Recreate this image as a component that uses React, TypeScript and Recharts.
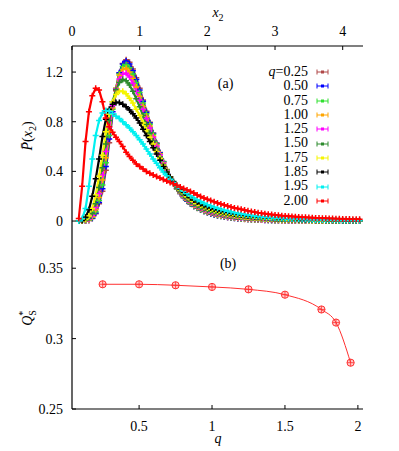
import React from 'react'
import { LineChart, Line, XAxis, YAxis, Legend, ReferenceDot } from 'recharts'

const FONT = 'Liberation Serif, DejaVu Serif, Times New Roman, serif'

// x2 grid of the distributions in panel (a)
const X2 = [
  0.1, 0.15, 0.2, 0.25, 0.3, 0.35, 0.4, 0.45, 0.5, 0.55,
  0.6, 0.65, 0.7, 0.75, 0.8, 0.85, 0.9, 0.95, 1, 1.05,
  1.1, 1.15, 1.2, 1.25, 1.3, 1.35, 1.4, 1.45, 1.5, 1.55,
  1.6, 1.65, 1.7, 1.75, 1.8, 1.85, 1.9, 1.95, 2, 2.05,
  2.1, 2.15, 2.2, 2.25, 2.3, 2.35, 2.4, 2.45, 2.5, 2.55,
  2.6, 2.65, 2.7, 2.75, 2.8, 2.85, 2.9, 2.95, 3, 3.05,
  3.1, 3.15, 3.2, 3.25, 3.3, 3.35, 3.4, 3.45, 3.5, 3.55,
  3.6, 3.65, 3.7, 3.75, 3.8, 3.85, 3.9, 3.95, 4, 4.05,
  4.1, 4.15, 4.2, 4.25,
]

const P025 = [
  0, 0, 0.001, 0.005, 0.02, 0.058, 0.14, 0.24, 0.41, 0.63,
  0.86, 1.05, 1.19, 1.27, 1.3, 1.28, 1.225, 1.155, 1.07, 0.975,
  0.885, 0.795, 0.71, 0.628, 0.552, 0.48, 0.415, 0.357, 0.305, 0.26,
  0.221, 0.188, 0.16, 0.137, 0.118, 0.102, 0.088, 0.076, 0.066, 0.057,
  0.05, 0.043, 0.038, 0.033, 0.029, 0.025, 0.022, 0.019, 0.017, 0.015,
  0.013, 0.011, 0.01, 0.009, 0.008, 0.007, 0.006, 0.005, 0.005, 0.004,
  0.004, 0.003, 0.003, 0.002, 0.002, 0.002, 0.002, 0.001, 0.001, 0.001,
  0.001, 0.001, 0.001, 0.001, 0.001, 0.001, 0.001, 0.001, 0.001, 0.001,
  0.001, 0.001, 0.001, 0.001,
]
const P050 = [
  0, 0, 0.001, 0.006, 0.022, 0.064, 0.15, 0.26, 0.44, 0.66,
  0.88, 1.065, 1.195, 1.265, 1.29, 1.265, 1.21, 1.14, 1.055, 0.965,
  0.875, 0.79, 0.705, 0.625, 0.55, 0.478, 0.414, 0.356, 0.305, 0.26,
  0.222, 0.19, 0.162, 0.139, 0.12, 0.104, 0.09, 0.078, 0.068, 0.059,
  0.051, 0.045, 0.039, 0.034, 0.03, 0.026, 0.023, 0.02, 0.018, 0.016,
  0.014, 0.012, 0.011, 0.009, 0.008, 0.007, 0.006, 0.006, 0.005, 0.004,
  0.004, 0.003, 0.003, 0.003, 0.002, 0.002, 0.002, 0.002, 0.001, 0.001,
  0.001, 0.001, 0.001, 0.001, 0.001, 0.001, 0.001, 0.001, 0.001, 0.001,
  0.001, 0.001, 0.001, 0.001,
]
const P075 = [
  0, 0, 0.002, 0.008, 0.028, 0.075, 0.165, 0.29, 0.47, 0.69,
  0.9, 1.07, 1.185, 1.245, 1.26, 1.235, 1.185, 1.115, 1.035, 0.95,
  0.865, 0.78, 0.7, 0.62, 0.545, 0.475, 0.412, 0.355, 0.305, 0.261,
  0.224, 0.192, 0.165, 0.142, 0.123, 0.107, 0.093, 0.081, 0.071, 0.062,
  0.054, 0.047, 0.041, 0.036, 0.032, 0.028, 0.025, 0.022, 0.019, 0.017,
  0.015, 0.013, 0.012, 0.01, 0.009, 0.008, 0.007, 0.006, 0.006, 0.005,
  0.004, 0.004, 0.003, 0.003, 0.003, 0.002, 0.002, 0.002, 0.002, 0.001,
  0.001, 0.001, 0.001, 0.001, 0.001, 0.001, 0.001, 0.001, 0.001, 0.001,
  0.001, 0.001, 0.001, 0.001,
]
const P100 = [
  0, 0, 0.003, 0.011, 0.035, 0.09, 0.19, 0.33, 0.51, 0.72,
  0.91, 1.07, 1.175, 1.22, 1.23, 1.2, 1.15, 1.08, 1.005, 0.925,
  0.845, 0.765, 0.685, 0.61, 0.54, 0.47, 0.41, 0.355, 0.305, 0.263,
  0.227, 0.196, 0.17, 0.147, 0.128, 0.112, 0.098, 0.086, 0.075, 0.066,
  0.058, 0.051, 0.045, 0.04, 0.035, 0.031, 0.028, 0.025, 0.022, 0.019,
  0.017, 0.015, 0.013, 0.012, 0.011, 0.01, 0.009, 0.008, 0.007, 0.006,
  0.005, 0.005, 0.004, 0.004, 0.003, 0.003, 0.003, 0.002, 0.002, 0.002,
  0.002, 0.001, 0.001, 0.001, 0.001, 0.001, 0.001, 0.001, 0.001, 0.001,
  0.001, 0.001, 0.001, 0.001,
]
const P125 = [
  0, 0, 0.004, 0.015, 0.045, 0.11, 0.22, 0.37, 0.56, 0.76,
  0.93, 1.065, 1.145, 1.185, 1.19, 1.16, 1.11, 1.045, 0.975, 0.9,
  0.825, 0.75, 0.675, 0.603, 0.533, 0.467, 0.406, 0.352, 0.305, 0.265,
  0.23, 0.2, 0.174, 0.152, 0.133, 0.117, 0.103, 0.091, 0.08, 0.071,
  0.063, 0.056, 0.05, 0.044, 0.039, 0.035, 0.031, 0.028, 0.025, 0.022,
  0.02, 0.018, 0.016, 0.014, 0.013, 0.011, 0.01, 0.009, 0.008, 0.007,
  0.007, 0.006, 0.005, 0.005, 0.004, 0.004, 0.003, 0.003, 0.003, 0.002,
  0.002, 0.002, 0.002, 0.002, 0.001, 0.001, 0.001, 0.001, 0.001, 0.001,
  0.001, 0.001, 0.001, 0.001,
]
const P150 = [
  0, 0.001, 0.006, 0.022, 0.06, 0.14, 0.27, 0.43, 0.62, 0.81,
  0.96, 1.06, 1.115, 1.14, 1.13, 1.095, 1.045, 0.985, 0.92, 0.85,
  0.78, 0.71, 0.645, 0.58, 0.515, 0.455, 0.4, 0.35, 0.305, 0.267,
  0.234, 0.205, 0.18, 0.158, 0.14, 0.124, 0.11, 0.098, 0.087, 0.078,
  0.07, 0.063, 0.056, 0.05, 0.045, 0.041, 0.037, 0.033, 0.03, 0.027,
  0.024, 0.022, 0.02, 0.018, 0.016, 0.014, 0.013, 0.012, 0.011, 0.01,
  0.009, 0.008, 0.007, 0.006, 0.006, 0.005, 0.005, 0.004, 0.004, 0.003,
  0.003, 0.003, 0.002, 0.002, 0.002, 0.002, 0.001, 0.001, 0.001, 0.001,
  0.001, 0.001, 0.001, 0.001,
]
const P175 = [
  0, 0.002, 0.012, 0.04, 0.1, 0.21, 0.36, 0.53, 0.72, 0.86,
  0.96, 1.02, 1.045, 1.045, 1.025, 0.99, 0.95, 0.9, 0.85, 0.79,
  0.735, 0.675, 0.62, 0.56, 0.505, 0.45, 0.4, 0.355, 0.315, 0.28,
  0.25, 0.222, 0.198, 0.177, 0.158, 0.142, 0.128, 0.115, 0.104, 0.094,
  0.085, 0.077, 0.07, 0.063, 0.057, 0.052, 0.047, 0.043, 0.039, 0.035,
  0.032, 0.029, 0.026, 0.024, 0.021, 0.019, 0.017, 0.016, 0.014, 0.013,
  0.012, 0.011, 0.01, 0.009, 0.008, 0.007, 0.006, 0.006, 0.005, 0.005,
  0.004, 0.004, 0.003, 0.003, 0.003, 0.002, 0.002, 0.002, 0.002, 0.001,
  0.001, 0.001, 0.001, 0.001,
]
const P185 = [
  0, 0.005, 0.03, 0.09, 0.2, 0.34, 0.5, 0.68, 0.82, 0.9,
  0.94, 0.955, 0.955, 0.94, 0.92, 0.895, 0.865, 0.83, 0.79, 0.74,
  0.69, 0.64, 0.59, 0.54, 0.49, 0.44, 0.395, 0.355, 0.318, 0.285,
  0.256, 0.23, 0.207, 0.187, 0.169, 0.153, 0.139, 0.126, 0.115, 0.105,
  0.096, 0.088, 0.081, 0.074, 0.068, 0.062, 0.057, 0.052, 0.048, 0.044,
  0.04, 0.037, 0.034, 0.031, 0.028, 0.026, 0.024, 0.022, 0.02, 0.018,
  0.017, 0.015, 0.014, 0.013, 0.012, 0.011, 0.01, 0.009, 0.008, 0.008,
  0.007, 0.006, 0.006, 0.005, 0.005, 0.004, 0.004, 0.004, 0.003, 0.003,
  0.003, 0.002, 0.002, 0.002,
]
const P195 = [
  0, 0.02, 0.1, 0.28, 0.5, 0.69, 0.81, 0.87, 0.89, 0.885,
  0.865, 0.845, 0.825, 0.8, 0.775, 0.75, 0.72, 0.69, 0.655, 0.62,
  0.58, 0.54, 0.5, 0.465, 0.43, 0.395, 0.365, 0.337, 0.31, 0.285,
  0.262, 0.24, 0.221, 0.203, 0.186, 0.171, 0.157, 0.144, 0.132, 0.121,
  0.111, 0.102, 0.094, 0.086, 0.079, 0.073, 0.067, 0.061, 0.056, 0.052,
  0.048, 0.044, 0.04, 0.037, 0.034, 0.031, 0.029, 0.027, 0.025, 0.023,
  0.021, 0.019, 0.018, 0.016, 0.015, 0.014, 0.013, 0.012, 0.011, 0.01,
  0.009, 0.009, 0.008, 0.007, 0.007, 0.006, 0.006, 0.005, 0.005, 0.005,
  0.004, 0.004, 0.004, 0.003,
]
const P200 = [
  0.02, 0.28, 0.64, 0.88, 1.01, 1.07, 1.055, 0.96, 0.83, 0.76,
  0.715, 0.675, 0.64, 0.6, 0.555, 0.52, 0.49, 0.46, 0.44, 0.42,
  0.4, 0.385, 0.37, 0.358, 0.346, 0.334, 0.322, 0.31, 0.3, 0.288,
  0.275, 0.262, 0.25, 0.238, 0.225, 0.21, 0.198, 0.186, 0.175, 0.165,
  0.155, 0.146, 0.137, 0.129, 0.121, 0.113, 0.106, 0.1, 0.094, 0.088,
  0.082, 0.077, 0.072, 0.067, 0.063, 0.059, 0.055, 0.052, 0.049, 0.046,
  0.043, 0.041, 0.039, 0.037, 0.035, 0.033, 0.031, 0.03, 0.028, 0.027,
  0.025, 0.024, 0.023, 0.022, 0.021, 0.02, 0.019, 0.018, 0.017, 0.016,
  0.016, 0.015, 0.015, 0.014,
]

// panel (b)
const Q_VALUES = [0.25, 0.5, 0.75, 1, 1.25, 1.5, 1.75, 1.85, 1.95]
const QS_STAR = [0.3386, 0.3386, 0.3379, 0.3367, 0.335, 0.3312, 0.3207, 0.3114, 0.2829]

const TOP_X_TICKS = [0, 1, 2, 3, 4]
const TOP_Y_TICKS = [0, 0.4, 0.8, 1.2]
const BOT_X_TICKS = [0.5, 1, 1.5, 2]
const BOT_Y_TICKS = [0.25, 0.3, 0.35]

const SERIES = [
  { key: 'q025', label: '0.25', color: '#b04848', values: P025 },
  { key: 'q050', label: '0.50', color: '#0000ff', values: P050 },
  { key: 'q075', label: '0.75', color: '#30e030', values: P075 },
  { key: 'q100', label: '1.00', color: '#ffa500', values: P100 },
  { key: 'q125', label: '1.25', color: '#ff00ff', values: P125 },
  { key: 'q150', label: '1.50', color: '#2e8b2e', values: P150 },
  { key: 'q175', label: '1.75', color: '#f5f500', values: P175 },
  { key: 'q185', label: '1.85', color: '#000000', values: P185 },
  { key: 'q195', label: '1.95', color: '#00f0f0', values: P195 },
  { key: 'q200', label: '2.00', color: '#ff0000', values: P200 },
]

const topData = X2.map((x, i) => {
  const row: Record<string, number> = { x }
  SERIES.forEach(s => { row[s.key] = s.values[i] })
  return row
})

const bottomData = Q_VALUES.map((q, i) => ({ q, qs: QS_STAR[i] }))

const tickStyle = { fill: '#000', fontSize: 14, fontFamily: FONT }
const frame = { stroke: '#000', strokeWidth: 1.2 }

const plusDot = (color: string) => (props: any) => {
  const { cx, cy, index } = props
  if (cx == null || cy == null) return <g key={index} />
  return (
    <path
      key={index}
      d={`M${cx - 3},${cy}h6M${cx},${cy - 3}v6`}
      stroke={color}
      strokeWidth={1.5}
      fill="none"
    />
  )
}

const ringDot = (props: any) => {
  const { cx, cy, index } = props
  if (cx == null || cy == null) return <g key={index} />
  return (
    <g key={index}>
      <circle cx={cx} cy={cy} r={3.6} fill="rgba(255,60,60,0.25)" stroke="#ff3030" strokeWidth={1} />
      <path d={`M${cx - 3.6},${cy}h7.2M${cx},${cy - 3.6}v7.2`} stroke="#ff3030" strokeWidth={0.8} />
    </g>
  )
}

const TopXLabel = () => (
  <text x={218} y={17} textAnchor="middle" fontFamily={FONT} fontSize={14} fill="#000">
    <tspan fontStyle="italic">x</tspan>
    <tspan fontSize={10} dy={4}>2</tspan>
  </text>
)

const TopYLabel = () => (
  <text transform="translate(32,136) rotate(-90)" textAnchor="middle" fontFamily={FONT} fontSize={14} fill="#000">
    <tspan fontStyle="italic">{'P\u0304'}</tspan>
    <tspan>(</tspan>
    <tspan fontStyle="italic">x</tspan>
    <tspan fontSize={10} dy={4}>2</tspan>
    <tspan dy={-4}>)</tspan>
  </text>
)

const BottomXLabel = () => (
  <text x={218} y={217} textAnchor="middle" fontFamily={FONT} fontSize={14} fontStyle="italic" fill="#000">
    q
  </text>
)

const BottomYLabel = () => (
  <text transform="translate(32,92) rotate(-90)" textAnchor="middle" fontFamily={FONT} fontSize={14} fill="#000">
    <tspan fontStyle="italic">Q</tspan>
    <tspan fontSize={10} dy={-6}>*</tspan>
    <tspan fontSize={10} dx={-5} dy={10}>S</tspan>
  </text>
)

const LegendBox = () => (
  <div style={{ fontFamily: FONT, fontSize: 14, color: '#000' }}>
    {SERIES.map((s, i) => (
      <div key={s.key} style={{ display: 'flex', alignItems: 'center', height: 14.3, lineHeight: '14.3px' }}>
        <span style={{ width: 78, textAlign: 'right', whiteSpace: 'nowrap' }}>
          {i === 0 ? <><i>q</i>=</> : null}
          {s.label}
        </span>
        <svg width={14} height={10} style={{ marginLeft: 8 }}>
          <path d="M1,5h11M1,2.5v5M12,2.5v5" stroke={s.color} strokeWidth={1} fill="none" />
          <rect x={5} y={3.5} width={3} height={3} fill={s.color} />
        </svg>
      </div>
    ))}
  </div>
)

export default function App() {
  return (
    <div style={{ position: 'absolute', left: 0, top: 0, width: 399, height: 451, background: '#fff', fontFamily: FONT }}>
      <div style={{ position: 'absolute', left: 0, top: 0 }}>
        <LineChart width={399} height={240} data={topData} margin={{ top: 16, right: 36, bottom: 14, left: 32 }}>
          <XAxis
            xAxisId="top"
            orientation="top"
            type="number"
            dataKey="x"
            domain={[0, 4.3]}
            ticks={TOP_X_TICKS}
            interval={0}
            allowDataOverflow
            height={30}
            tickSize={-4}
            tickMargin={14}
            tick={tickStyle}
            tickLine={{ stroke: '#000' }}
            axisLine={frame}
            label={<TopXLabel />}
          />
          <XAxis
            xAxisId="bottom"
            orientation="bottom"
            type="number"
            dataKey="x"
            domain={[0, 4.3]}
            height={0}
            tick={false}
            tickLine={false}
            axisLine={frame}
          />
          <YAxis
            yAxisId="left"
            type="number"
            domain={[-0.04, 1.41]}
            ticks={TOP_Y_TICKS}
            interval={0}
            allowDataOverflow
            width={40}
            tickSize={-4}
            tickMargin={13}
            tick={tickStyle}
            tickLine={{ stroke: '#000' }}
            axisLine={frame}
            label={<TopYLabel />}
          />
          <YAxis
            yAxisId="right"
            orientation="right"
            type="number"
            domain={[-0.04, 1.41]}
            width={0}
            tick={false}
            tickLine={false}
            axisLine={frame}
          />
          {SERIES.map(s => (
            <Line
              key={s.key}
              xAxisId="top"
              yAxisId="left"
              dataKey={s.key}
              stroke={s.color}
              strokeWidth={2.2}
              dot={plusDot(s.color)}
              activeDot={false}
              isAnimationActive={false}
            />
          ))}
          <ReferenceDot
            xAxisId="top"
            yAxisId="left"
            x={2.27}
            y={1.11}
            r={0}
            label={{ value: '(a)', position: 'center', fontSize: 14, fontFamily: FONT, fill: '#000' }}
          />
          <Legend
            layout="vertical"
            align="center"
            verticalAlign="middle"
            content={<LegendBox />}
            wrapperStyle={{ left: 230, top: 65, width: 110, height: 145 }}
          />
        </LineChart>
      </div>
      <div style={{ position: 'absolute', left: 0, top: 226 }}>
        <LineChart width={399} height={225} data={bottomData} margin={{ top: 0, right: 36, bottom: 0, left: 32 }}>
          <XAxis
            xAxisId="bottom"
            orientation="bottom"
            type="number"
            dataKey="q"
            domain={[0.04, 2.035]}
            ticks={BOT_X_TICKS}
            interval={0}
            allowDataOverflow
            height={42}
            tickSize={-4}
            tickMargin={16}
            tick={tickStyle}
            tickLine={{ stroke: '#000' }}
            axisLine={frame}
            label={<BottomXLabel />}
          />
          <XAxis
            xAxisId="top"
            orientation="top"
            type="number"
            dataKey="q"
            domain={[0.04, 2.035]}
            height={0}
            tick={false}
            tickLine={false}
            axisLine={frame}
          />
          <YAxis
            yAxisId="left"
            type="number"
            domain={[0.25, 0.38]}
            ticks={BOT_Y_TICKS}
            interval={0}
            allowDataOverflow
            width={40}
            tickSize={-4}
            tickMargin={13}
            tick={tickStyle}
            tickLine={{ stroke: '#000' }}
            axisLine={frame}
            label={<BottomYLabel />}
          />
          <YAxis
            yAxisId="right"
            orientation="right"
            type="number"
            domain={[0.25, 0.38]}
            width={0}
            tick={false}
            tickLine={false}
            axisLine={frame}
          />
          <Line
            xAxisId="bottom"
            yAxisId="left"
            type="monotone"
            dataKey="qs"
            stroke="#ff3030"
            strokeWidth={1}
            dot={ringDot}
            activeDot={false}
            isAnimationActive={false}
          />
          <ReferenceDot
            xAxisId="bottom"
            yAxisId="left"
            x={1.11}
            y={0.3537}
            r={0}
            label={{ value: '(b)', position: 'center', fontSize: 14, fontFamily: FONT, fill: '#000' }}
          />
        </LineChart>
      </div>
    </div>
  )
}
